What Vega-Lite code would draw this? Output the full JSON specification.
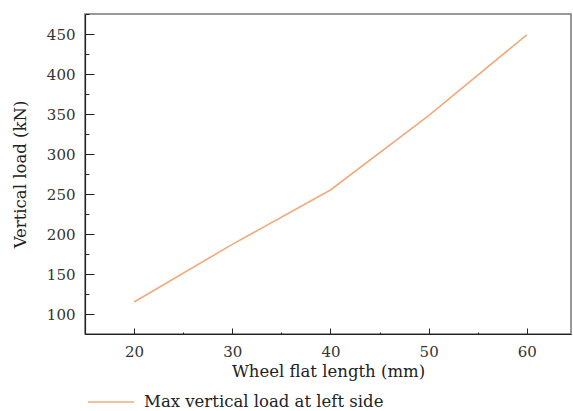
{
  "$schema": "https://vega.github.io/schema/vega-lite/v6.json",
  "autosize": "none",
  "width": 486,
  "height": 320,
  "padding": {"left": 85, "top": 14, "right": 2, "bottom": 77},
  "background": "white",
  "config": {
    "font": "DejaVu Serif",
    "view": {"stroke": "#777777", "strokeWidth": 1.5},
    "axis": {
      "grid": false,
      "domainColor": "#222222",
      "domainWidth": 1.2,
      "tickColor": "#222222",
      "tickWidth": 1,
      "labelColor": "#333333",
      "labelFont": "DejaVu Serif",
      "labelFontSize": 15,
      "titleFont": "DejaVu Serif",
      "titleFontWeight": "normal",
      "titleColor": "#222222",
      "titleFontSize": 16.5
    }
  },
  "data": {
    "values": [
      {"length": 20, "load": 115, "series": "Max vertical load at left side"},
      {"length": 30, "load": 187, "series": "Max vertical load at left side"},
      {"length": 40, "load": 255, "series": "Max vertical load at left side"},
      {"length": 50, "load": 348, "series": "Max vertical load at left side"},
      {"length": 60, "load": 449, "series": "Max vertical load at left side"}
    ]
  },
  "mark": {"type": "line", "strokeWidth": 1.6, "clip": true},
  "encoding": {
    "x": {
      "field": "length",
      "type": "quantitative",
      "scale": {"domain": [15, 64.5], "nice": false, "zero": false},
      "axis": {
        "title": "Wheel flat length (mm)",
        "labelFont": "DejaVu Serif",
        "values": [15, 20, 25, 30, 35, 40, 45, 50, 55, 60],
        "labelExpr": "datum.value % 10 === 0 ? datum.label : ''",
        "tickSize": {"condition": {"test": "datum.value % 10 === 0", "value": -6}, "value": -2},
        "labelPadding": 16,
        "titlePadding": 4
      }
    },
    "y": {
      "field": "load",
      "type": "quantitative",
      "scale": {"domain": [75, 475], "nice": false, "zero": false},
      "axis": {
        "title": "Vertical load (kN)",
        "labelFont": "DejaVu Serif",
        "values": [100, 125, 150, 175, 200, 225, 250, 275, 300, 325, 350, 375, 400, 425, 450, 475],
        "labelExpr": "datum.value % 50 === 0 ? datum.label : ''",
        "tickSize": {"condition": {"test": "datum.value % 50 === 0", "value": -9}, "value": -4},
        "labelPadding": 19,
        "titlePadding": 18
      }
    },
    "color": {
      "field": "series",
      "type": "nominal",
      "scale": {"range": ["#f0aa7c"]},
      "legend": {
        "title": null,
        "orient": "none",
        "legendX": 2,
        "legendY": 364,
        "symbolType": "stroke",
        "symbolSize": 2116,
        "symbolStrokeWidth": 1.6,
        "symbolStrokeColor": "#f0aa7c",
        "labelFont": "DejaVu Serif",
        "labelFontSize": 16.5,
        "labelLimit": 400,
        "labelColor": "#222222",
        "labelOffset": 9
      }
    }
  }
}
